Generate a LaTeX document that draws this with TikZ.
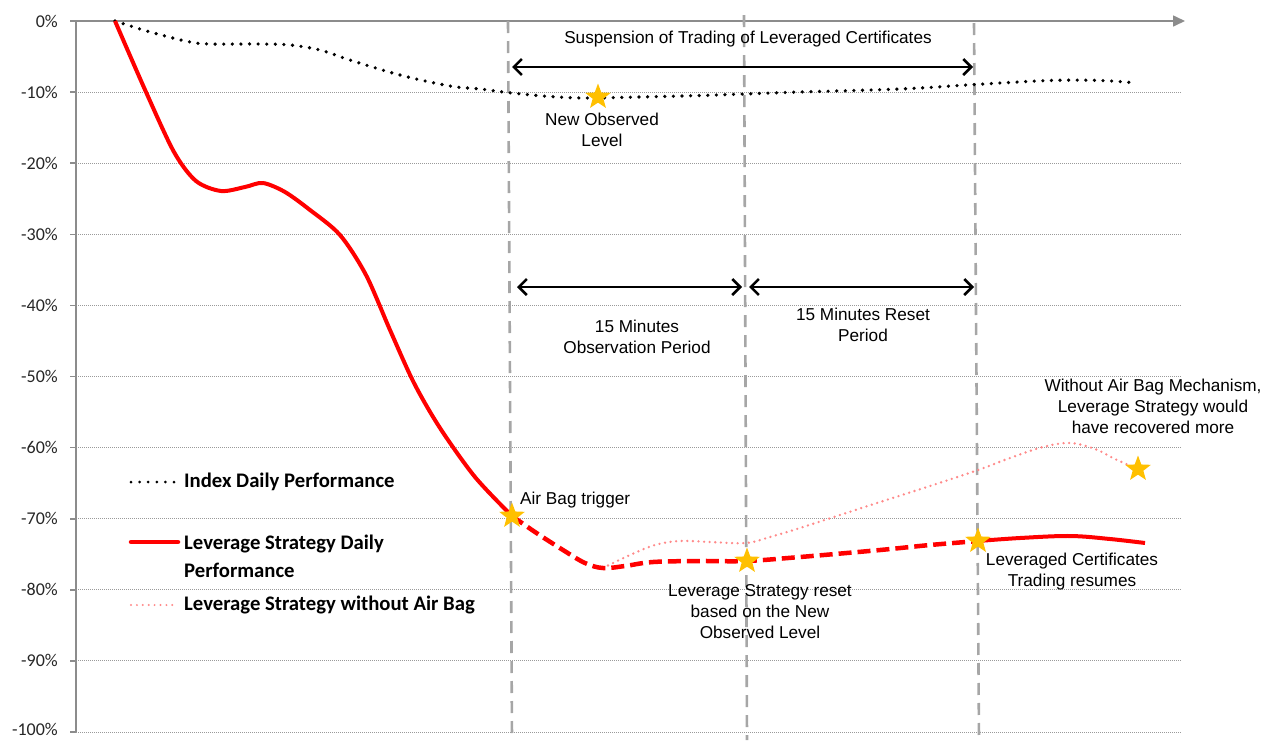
\documentclass[tikz,border=0pt]{standalone}
\usepackage{fontspec}
\setmainfont{Liberation Sans}
\newfontfamily\calfont{Carlito}
\usetikzlibrary{shapes.geometric,arrows.meta}
\definecolor{gold}{HTML}{FFC000}
\definecolor{pinkline}{HTML}{FF8A8A}
\definecolor{axisgray}{HTML}{8C8C8C}
\definecolor{vgray}{HTML}{A6A6A6}
\definecolor{gridgray}{HTML}{9A9A9A}
\begin{document}
\begin{tikzpicture}[x=1pt,y=-1pt,
  ann/.style={font=\fontsize{17.2}{21}\selectfont, align=center, inner sep=0pt},
  ticklab/.style={font=\calfont\fontsize{18}{20}\selectfont, anchor=east, inner sep=0pt, text=black!85},
  leglab/.style={font=\calfont\bfseries\fontsize{20.7}{28}\selectfont, anchor=west, inner sep=0pt, align=left},
  starmark/.style={star, star points=5, star point ratio=2.4, fill=gold, minimum size=27pt, inner sep=0pt},
  gridline/.style={gridgray, line width=0.9pt, dash pattern=on 1pt off 1pt},
  axisline/.style={axisgray, line width=1.6pt},
  vdash/.style={vgray, line width=2.6pt, dash pattern=on 12pt off 8pt},
  span/.style={line width=2.5pt, {Straight Barb[length=8pt,width=16pt]}-{Straight Barb[length=8pt,width=16pt]}},
  indexline/.style={black, line width=3.6pt, dash pattern=on 0pt off 8.6pt, line cap=round},
  levline/.style={red, line width=4pt},
  levdash/.style={red, line width=4.5pt, dash pattern=on 13pt off 6pt},
  pinkdots/.style={pinkline, line width=2.6pt, dash pattern=on 0pt off 5.6pt, line cap=round},
]
\useasboundingbox (0,0) rectangle (1263,740);
% grid
\foreach \i in {1,...,10} \draw[gridline] (76,{21+71.1*\i}) -- (1182,{21+71.1*\i});
\foreach \i in {0,...,10} \draw[axisline] (70,{21+71.1*\i}) -- (76,{21+71.1*\i});
\foreach \i/\t in {0/0\%,1/-10\%,2/-20\%,3/-30\%,4/-40\%,5/-50\%,6/-60\%,7/-70\%,8/-80\%,9/-90\%}
  \node[ticklab] (t\i) at (58,{21+71.1*\i}) {\t};
\node[ticklab] (t10) at (58,729) {-100\%};
% axes
\draw[axisline] (76,21) -- (76,732);
\draw[axisline, -{Triangle[length=12pt,width=11pt]}] (76,21) -- (1185,21);
% vertical dashed lines
\draw[vdash] (508,21) -- (512,740);
\draw[vdash] (744,15) -- (747,740);
\draw[vdash] (974,23) -- (979,740);
% index
\draw[indexline] plot[smooth, tension=0.6] coordinates {(115,21) (140,29) (165,36) (190,42) (210,44) (260,44) (290,45) (320,50) (350,60) (400,75) (450,86) (480,89) (512,93) (550,96.5) (585,98) (640,97) (700,95.5) (744,94) (800,92) (900,89) (975,84.5) (1050,80.5) (1100,80.5) (1137,83)};
% pink without air bag
\draw[pinkdots] plot[smooth, tension=0.6] coordinates {(603,568) (630,555) (655,545) (680,541) (710,542) (746,543) (770,537) (800,528) (840,515) (880,502) (930,486) (978,470) (1010,458) (1043,447) (1070,443) (1095,449) (1115,459) (1138,469)};
% leverage strategy
\draw[levline] plot[smooth, tension=0.5] coordinates {(115,21) (146,92) (174,152) (196,181) (221,191) (245,187) (263,183) (285,192) (310,210) (340,235) (366,275) (390,330) (414,383) (440,428) (475,477) (512,516)};
\draw[levdash] plot[smooth, tension=0.6] coordinates {(512,516) (535,532) (563,550) (585,563) (603,568) (625,566) (653,562) (700,561) (746,561) (800,557) (880,550) (930,545) (978,541)};
\draw[levline] plot[smooth, tension=0.6] coordinates {(978,541) (1020,538) (1070,536) (1110,539) (1145,543)};
% stars
\node[starmark] (s1) at (512,516) {};
\node[starmark] (s2) at (598,97) {};
\node[starmark] (s3) at (747,561) {};
\node[starmark] (s4) at (978,541) {};
\node[starmark] (s5) at (1138,469) {};
% span arrows
\coordinate (a1l) at (512,67); \coordinate (a1r) at (973,67);
\coordinate (a2l) at (517,287); \coordinate (a2r) at (742,287);
\coordinate (a3l) at (749,287); \coordinate (a3r) at (974,287);
\draw[span] (a1l) -- (a1r);
\draw[span] (a2l) -- (a2r);
\draw[span] (a3l) -- (a3r);
% annotations
\node[ann] (susp) at (748,39) {Suspension of Trading of Leveraged Certificates};
\node[ann] (newobs) at (602,130) {New Observed\\Level};
\node[ann] (obs) at (637,337) {15 Minutes\\Observation Period};
\node[ann] (reset) at (863,325) {15 Minutes Reset\\Period};
\node[ann] (woab) at (1153,406) {Without Air Bag Mechanism,\\Leverage Strategy would\\have recovered more};
\node[ann, anchor=west] (trig) at (520,500) {Air Bag trigger};
\node[ann] (lsr) at (760,612) {Leverage Strategy reset\\based on the New\\Observed Level};
\node[ann] (lcr) at (1072,572) {Leveraged Certificates\\Trading resumes};
% legend
\coordinate (l1a) at (131,482); \coordinate (l1b) at (176,482);
\coordinate (l2a) at (131,542); \coordinate (l2b) at (178,542);
\coordinate (l3a) at (131,605); \coordinate (l3b) at (178,605);
\draw[black, line width=3pt, dash pattern=on 0pt off 8.6pt, line cap=round] (l1a) -- (l1b);
\draw[levline, line width=4.5pt, line cap=round] (l2a) -- (l2b);
\draw[pinkline, line width=2.2pt, dash pattern=on 0pt off 5.9pt, line cap=round] (l3a) -- (l3b);
\node[leglab] (g1) at (184,482) {Index Daily Performance};
\node[leglab] (g2) at (184,556) {Leverage Strategy Daily\\Performance};
\node[leglab] (g3) at (184,605) {Leverage Strategy without Air Bag};
\end{tikzpicture}
\end{document}
